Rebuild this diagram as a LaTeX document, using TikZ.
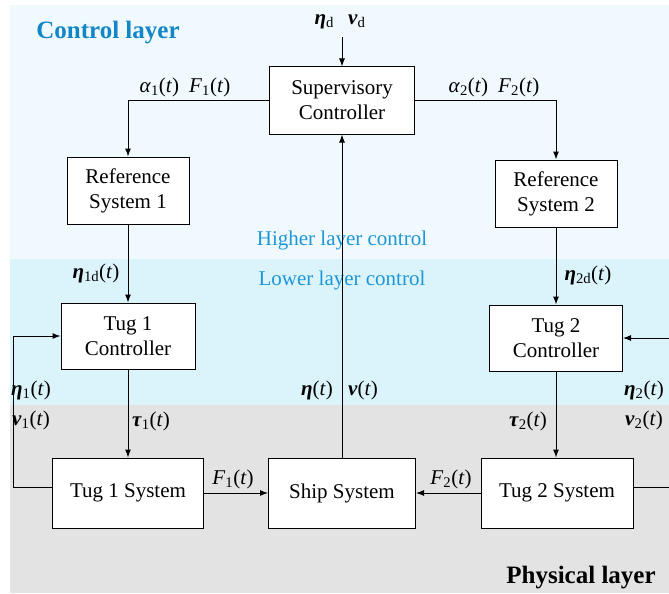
\documentclass[tikz,border=0pt]{standalone}
\usepackage{fontspec}
\setmainfont{Liberation Serif}
\usetikzlibrary{arrows.meta}
\definecolor{bgtop}{HTML}{F0FAFE}
\definecolor{bgmid}{HTML}{DBF4FB}
\definecolor{bggray}{HTML}{E3E3E3}
\definecolor{titleblue}{HTML}{1286C8}
\definecolor{lblblue}{HTML}{1E96D8}
\newcommand{\bv}[1]{\textbf{\textit{#1}}}
\newcommand{\lsub}[1]{\textsubscript{#1}}
\newcommand{\ofT}{(\textit{t})}
\begin{document}
\begin{tikzpicture}[x=1pt,y=-1pt,
  blk/.style={draw=black,line width=1pt,fill=white,inner sep=0pt,align=center,
    font=\fontsize{21}{25}\selectfont},
  lbl/.style={inner sep=0pt,font=\fontsize{21}{25}\selectfont},
  lay/.style={inner sep=0pt,font=\fontsize{21}{25}\selectfont\color{lblblue}},
  ttl/.style={inner sep=0pt,font=\fontsize{25}{30}\selectfont\bfseries},
  conn/.style={line width=1pt,draw=black},
  arr/.style={conn,-{Latex[length=8pt,width=6pt]}}]
\useasboundingbox (0,0) rectangle (669,594);
% backgrounds
\fill[bgtop] (10,5) rectangle (669,259);
\fill[bgmid] (10,259) rectangle (669,405);
\fill[bggray] (10,405) rectangle (669,593);
% layer titles
\node[ttl,text=titleblue] (tctl) at (108,33) {Control layer};
\node[ttl] (tphy) at (581,578) {Physical layer};
\node[lay] (thigh) at (342,240) {Higher layer control};
\node[lay] (tlow) at (342,280) {Lower layer control};
% blocks
\node[blk,minimum width=145pt,minimum height=67pt] (sup) at (342,100.5) {Supervisory\\Controller};
\node[blk,minimum width=122pt,minimum height=67pt] (ref1) at (128,190.5) {Reference\\System 1};
\node[blk,minimum width=122pt,minimum height=67pt] (ref2) at (556,193.5) {Reference\\System 2};
\node[blk,minimum width=134pt,minimum height=66pt] (tc1) at (128,336) {Tug 1\\Controller};
\node[blk,minimum width=133pt,minimum height=66pt] (tc2) at (556,338) {Tug 2\\Controller};
\node[blk,minimum width=151pt,minimum height=70pt] (ts1) at (128,493) {Tug 1 System};
\node[blk,minimum width=147pt,minimum height=70pt] (ship) at (342,493) {Ship System};
\node[blk,minimum width=152pt,minimum height=70pt] (ts2) at (557,493) {Tug 2 System};
% free ends
\coordinate (inp) at (342,37);
\coordinate (fbl) at (13,487);
\coordinate (fbr1) at (669,487);
\coordinate (fbr2) at (669,338);
% connectors
\draw[arr] (inp) -- (sup.north);
\draw[arr] (sup.west) -| (ref1.north);
\draw[arr] (sup.east) -| (ref2.north);
\draw[arr] (ref1.south) -- (tc1.north);
\draw[arr] (ref2.south) -- (tc2.north);
\draw[arr] (tc1.south) -- (tc1.south |- ts1.north);
\draw[arr] (tc2.south) -- (tc2.south |- ts2.north);
\draw[arr] (ts1.east) -- (ship.west);
\draw[arr] (ts2.west) -- (ship.east);
\draw[arr] (ship.north) -- (sup.south);
\draw[arr] (ts1.west |- fbl) -- (fbl) |- (tc1.west);
\draw[conn] (ts2.east |- fbr1) -- (fbr1);
\draw[arr] (fbr2) -- (tc2.east);
% labels
\node[lbl] (lin) at (340,22) {\bv{η}\lsub{d}\hspace{14pt}\bv{ν}\lsub{d}};
\node[lbl] (la1) at (185,87) {\textit{α}\lsub{1}\ofT\hspace{10pt}\textit{F}\lsub{1}\ofT};
\node[lbl] (la2) at (494,87) {\textit{α}\lsub{2}\ofT\hspace{10pt}\textit{F}\lsub{2}\ofT};
\node[lbl] (le1d) at (96,273) {\bv{η}\lsub{1d}\ofT};
\node[lbl] (le2d) at (588,275) {\bv{η}\lsub{2d}\ofT};
\node[lbl] (le1) at (31,390) {\bv{η}\lsub{1}\ofT};
\node[lbl] (lv1) at (31,420) {\bv{ν}\lsub{1}\ofT};
\node[lbl] (lt1) at (151,421) {\bv{τ}\lsub{1}\ofT};
\node[lbl] (le) at (317,390) {\bv{η}\ofT};
\node[lbl] (lv) at (363,390) {\bv{ν}\ofT};
\node[lbl] (lt2) at (528,421) {\bv{τ}\lsub{2}\ofT};
\node[lbl] (le2) at (644,390) {\bv{η}\lsub{2}\ofT};
\node[lbl] (lv2) at (644,420) {\bv{ν}\lsub{2}\ofT};
\node[lbl] (lf1) at (233,479) {\textit{F}\lsub{1}\ofT};
\node[lbl] (lf2) at (451,479) {\textit{F}\lsub{2}\ofT};
\end{tikzpicture}
\end{document}
